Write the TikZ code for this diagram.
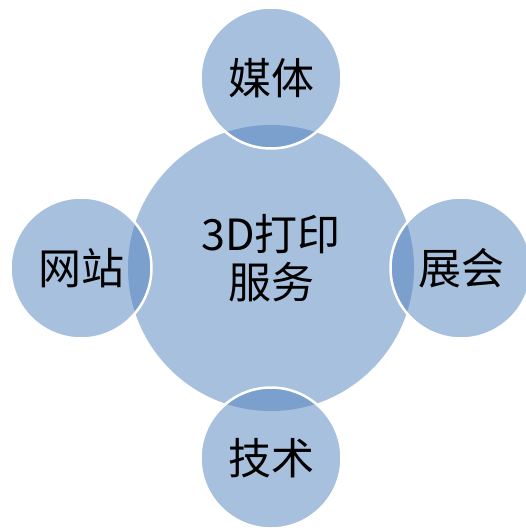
\documentclass[tikz,border=0pt]{standalone}
\usepackage{fontspec}
\newfontfamily\cjk{Noto Sans CJK SC}
\definecolor{lightblue}{HTML}{A7C0DE}
\definecolor{darkblue}{HTML}{7BA0CD}
\tikzset{
  hub/.style={circle, fill=lightblue, minimum size=286pt, inner sep=0pt},
  lbl/.style={font=\cjk\fontsize{43}{48}\selectfont, text=black, align=center}
}
\begin{document}
\begin{tikzpicture}[x=1pt,y=-1pt]
\useasboundingbox (0,0) rectangle (526,528);
\begin{scope}
\clip (0,0) rectangle (526,528);
\node[hub] (c) at (271,268) {};
\foreach \n/\x/\y in {t/271/78, b/271/458, l/81/268, r/461/268}{
  \fill[lightblue] (\x,\y) circle (70.5);
  \begin{scope}
    \clip (271,268) circle (143);
    \fill[darkblue] (\x,\y) circle (70.5);
  \end{scope}
  \draw[white, line width=2.5pt] (\x,\y) circle (70.5);
  \node[circle, minimum size=141pt, inner sep=0pt] (\n) at (\x,\y) {};
}
\end{scope}
\node[lbl] (ct) at (c.center) [yshift=10pt] {3D打印\\服务};
\node[lbl] at (t.center) {媒体};
\node[lbl] at (b.center) {技术};
\node[lbl] at (l.center) {网站};
\node[lbl] at (r.center) {展会};
\end{tikzpicture}
\end{document}
